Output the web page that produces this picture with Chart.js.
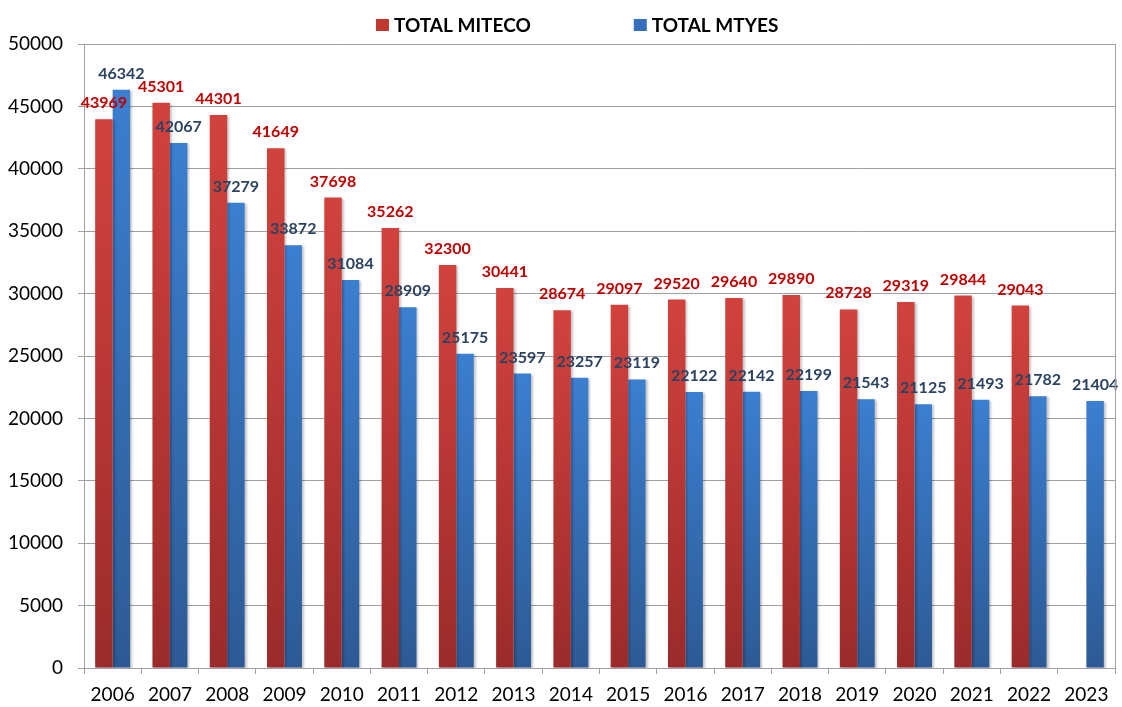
<!DOCTYPE html>
<html>
<head>
<meta charset="utf-8">
<script src="https://cdn.jsdelivr.net/npm/chart.js@4/dist/chart.umd.min.js"></script>
<style>
html,body{margin:0;padding:0;background:#fff;}
#wrap{width:1122px;height:707px;}
</style>
</head>
<body>
<div id="wrap"><canvas id="c" width="1122" height="707"></canvas></div>
<script>
const years = ["2006","2007","2008","2009","2010","2011","2012","2013","2014","2015","2016","2017","2018","2019","2020","2021","2022","2023"];
const miteco = [43969,45301,44301,41649,37698,35262,32300,30441,28674,29097,29520,29640,29890,28728,29319,29844,29043,null];
const mtyes = [46342,42067,37279,33872,31084,28909,25175,23597,23257,23119,22122,22142,22199,21543,21125,21493,21782,21404];
const seriesNames = ["TOTAL MITECO","TOTAL MTYES"];
const yTicks = [0,5000,10000,15000,20000,25000,30000,35000,40000,45000,50000];

const FONT = "Lato";

function barGradient(top, bottom, fallback){
  return function(ctx){
    const chart = ctx.chart;
    if(!chart.chartArea || ctx.type !== 'data' || ctx.parsed == null || ctx.parsed.y == null) return fallback;
    const ys = chart.scales.y;
    const yTop = ys.getPixelForValue(ctx.parsed.y);
    const yBot = ys.getPixelForValue(0);
    if(!isFinite(yTop) || !isFinite(yBot) || yTop === yBot) return fallback;
    const g = chart.ctx.createLinearGradient(0, yTop, 0, yBot);
    g.addColorStop(0, top);
    g.addColorStop(1, bottom);
    return g;
  };
}

const labelColors = ["#c00000", "#2b4361"];
const legendColors = ["#c0392f", "#3470bd"];

const valueLabels = {
  id: 'valueLabels',
  afterDatasetsDraw(chart){
    const ctx = chart.ctx;
    ctx.save();
    ctx.font = "bold 16px " + FONT;
    ctx.textAlign = 'center';
    ctx.textBaseline = 'alphabetic';
    chart.data.datasets.forEach((ds, di) => {
      const meta = chart.getDatasetMeta(di);
      ctx.fillStyle = labelColors[di];
      meta.data.forEach((bar, i) => {
        const v = ds.data[i];
        if(v == null) return;
        ctx.fillText(String(v), bar.x, bar.y - 11);
      });
    });
    ctx.restore();
  }
};

const shadowPlugin = {
  id: 'barShadow',
  beforeDatasetsDraw(chart){
    const ctx = chart.ctx;
    ctx.save();
    ctx.shadowColor = 'rgba(0,0,0,0.22)';
    ctx.shadowBlur = 2;
    ctx.shadowOffsetX = 2;
    ctx.shadowOffsetY = 1;
  },
  afterDatasetsDraw(chart){
    chart.ctx.restore();
  }
};

const frameAndLegend = {
  id: 'frameAndLegend',
  afterDraw(chart){
    const ctx = chart.ctx;
    const a = chart.chartArea;
    ctx.save();
    ctx.strokeStyle = '#a0a0a0';
    ctx.lineWidth = 1;
    ctx.beginPath();
    ctx.moveTo(Math.round(a.right) + 0.5, a.top);
    ctx.lineTo(Math.round(a.right) + 0.5, a.bottom);
    ctx.stroke();
    // legend
    ctx.font = "bold 19px " + FONT;
    ctx.textBaseline = 'middle';
    ctx.textAlign = 'left';
    const box = 13, gapBox = 5, gapItem = 103;
    const widths = seriesNames.map(n => box + gapBox + ctx.measureText(n).width);
    const total = widths[0] + gapItem + widths[1];
    let x = chart.width * 0.5144 - total / 2;
    const yMid = 25;
    seriesNames.forEach((n, i) => {
      ctx.fillStyle = legendColors[i];
      ctx.fillRect(x, yMid - 6, box, 12);
      ctx.fillStyle = '#000';
      ctx.fillText(n, x + box + gapBox, yMid + 1);
      x += widths[i] + gapItem;
    });
    ctx.restore();
  }
};

new Chart(document.getElementById('c'), {
  type: 'bar',
  data: {
    labels: years,
    datasets: [
      {
        label: seriesNames[0],
        data: miteco,
        backgroundColor: barGradient('#d2423d', '#9b2b2b', '#c0392f'),
        borderWidth: 0,
        categoryPercentage: 0.61,
        barPercentage: 1.0
      },
      {
        label: seriesNames[1],
        data: mtyes,
        backgroundColor: barGradient('#3b7fd0', '#2d5a95', '#3470bd'),
        borderWidth: 0,
        categoryPercentage: 0.61,
        barPercentage: 1.0
      }
    ]
  },
  options: {
    responsive: false,
    animation: false,
    devicePixelRatio: 1,
    layout: { padding: { top: 44, right: 7, left: 0, bottom: 0 } },
    plugins: {
      legend: { display: false },
      tooltip: { enabled: false }
    },
    scales: {
      x: {
        grid: {
          display: true,
          drawOnChartArea: false,
          drawTicks: true,
          tickLength: 6,
          color: '#a0a0a0',
          offset: true
        },
        border: { display: true, color: '#a0a0a0', width: 1 },
        ticks: {
          color: '#000',
          font: { family: FONT, size: 19 },
          padding: 9,
          maxRotation: 0,
          autoSkip: false
        },
        afterFit(scale){ scale.height = 39; }
      },
      y: {
        min: 0,
        max: 50000,
        afterBuildTicks(scale){ scale.ticks = yTicks.map(v => ({value: v})); },
        grid: {
          color: '#a0a0a0',
          lineWidth: 1,
          drawTicks: true,
          tickLength: 6
        },
        border: { display: true, color: '#a0a0a0', width: 1 },
        ticks: {
          color: '#000',
          font: { family: FONT, size: 19 },
          padding: 15,
          callback: (v) => String(v)
        },
        afterFit(scale){ scale.width = 84; }
      }
    }
  },
  plugins: [shadowPlugin, valueLabels, frameAndLegend]
});
</script>
</body>
</html>
